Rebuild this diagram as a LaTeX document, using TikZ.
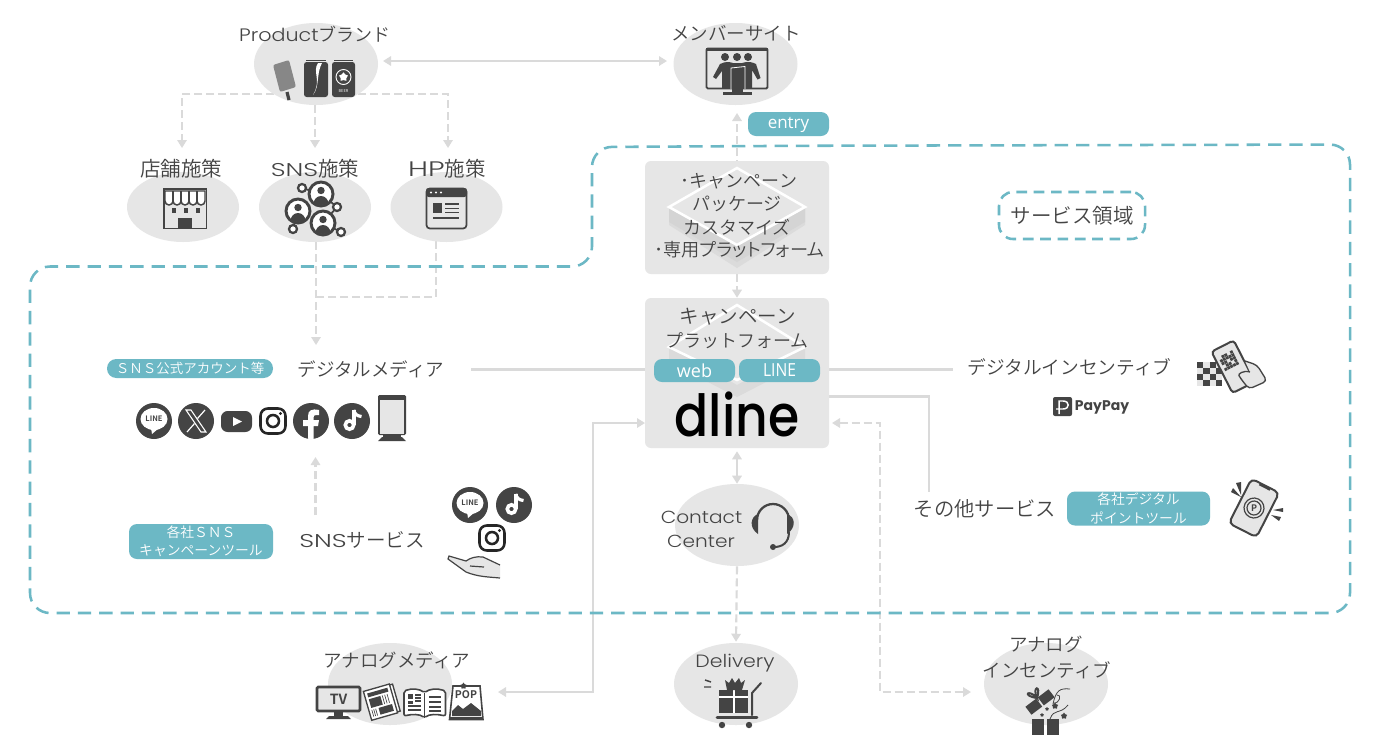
\documentclass[tikz,border=0pt]{standalone}
\usepackage{fontspec}
\setmainfont{Noto Sans CJK JP}[UprightFont={* DemiLight}]
\newfontfamily\jpp{Noto Sans CJK JP}[UprightFont={* DemiLight},RawFeature={+palt}]
\newfontfamily\lat{Poppins}[UprightFont={* Light},FakeStretch=1.15]
\newfontfamily\latw{Poppins}[UprightFont={* Light},FakeStretch=1.4]
\newfontfamily\blat{Poppins}[UprightFont={* Medium}]
\newfontfamily\pill{Open Sans}
\newfontfamily\pilln{Open Sans}[FakeStretch=0.87]
\usetikzlibrary{arrows.meta,shapes.geometric,calc}
\pgfdeclarelayer{conn}
\pgfsetlayers{conn,main}
\newcommand{\px}[1]{\fontsize{\dimexpr#1pt*3/4\relax}{\dimexpr#1pt\relax}\selectfont}
\definecolor{dk}{HTML}{444444}
\definecolor{tl}{HTML}{6CB8C5}
\definecolor{gr}{HTML}{E6E6E6}
\definecolor{ln}{HTML}{DADADA}
\tikzset{
 x=0.75pt,y=-0.75pt,
 oval/.style={ellipse,fill=gr,inner sep=0pt,minimum width=#1},
 ovalA/.style={oval=93pt,minimum height=61.5pt},
 ovalB/.style={oval=84pt,minimum height=52.5pt},
 panel/.style={rectangle,fill=gr,rounded corners=4.5pt,inner sep=0pt},
 tag/.style={rectangle,fill=tl,text=white,rounded corners=6pt,inner sep=0pt,align=center},
 lab/.style={text=dk,inner sep=0pt,align=center,font=\px{18.5}},
 sol/.style={draw=ln,line width=1.6pt},
 das/.style={sol,dash pattern=on 6pt off 3pt},
 tip/.style={-{Triangle[width=7pt,length=6pt]}},
 tipp/.style={{Triangle[width=7pt,length=6pt]}-{Triangle[width=7pt,length=6pt]}},
 zone/.style={draw=tl,line width=1.9pt,dash pattern=on 10pt off 6pt},
}
\newcommand{\lineicon}[2]{\begin{scope}[shift={(#1,#2)}]
 \fill[dk] (0,0) circle[radius=18];
 \fill[white] (0,-2) ellipse[x radius=13.5,y radius=11];
 \fill[white] (-3,7) -- (-2,13) -- (5,7) -- cycle;
 \node[text=dk,inner sep=0pt,font=\px{7.5}\bfseries] at (0,-2) {LINE};
\end{scope}}
\newcommand{\tiktokicon}[2]{\begin{scope}[shift={(#1,#2)}]
 \fill[dk] (0,0) circle[radius=18];
 \draw[white,line width=2.7pt] (-2.5,4) circle[radius=4.2];
 \draw[white,line width=2.7pt] (1.7,4) -- (1.7,-11);
 \draw[white,line width=2.4pt] (1.7,-11) .. controls (2.5,-7) and (5,-5) .. (9.5,-4.5);
\end{scope}}
\newcommand{\instaicon}[2]{\begin{scope}[shift={(#1,#2)}]
 \draw[black!85,line width=1.9pt,rounded corners=5.5pt] (-12.5,-12.5) rectangle (12.5,12.5);
 \draw[black!85,line width=1.9pt] (0,0) circle[radius=6];
 \fill[black!85] (7.5,-7.5) circle[radius=1.7];
\end{scope}}
\begin{document}
\begin{tikzpicture}
\useasboundingbox (0,0) rectangle (1380,747);
\begin{pgfonlayer}{conn}
\fill[white] (0,0) rectangle (1380,747);
\end{pgfonlayer}

% ---------- panels and ovals
\node[ovalA] (prod) at (316,64) {};
\node[ovalA] (memb) at (735.5,64) {};
\node[ovalB] (shop) at (183,207) {};
\node[ovalB] (snsp) at (315,207) {};
\node[ovalB] (hpp) at (446.5,207) {};
\node[ovalA] (cont) at (737,525) {};
\node[ovalA] (anam) at (390,684) {};
\node[ovalA] (deli) at (736,684) {};
\node[ovalA] (anai) at (1046,684) {};
\node[panel,minimum width=138pt,minimum height=84.75pt] (pk) at (737,217.5) {};
\node[panel,minimum width=138pt,minimum height=112.5pt] (pf) at (737,373) {};

% diamonds
\fill[black!5!gr] (669,207) -- (737,245) -- (805,207) -- (805,225) -- (737,268) -- (669,225) -- cycle;
\fill[black!8!gr] (669,207) -- (737,245) -- (805,207) -- (805,222) -- (737,262) -- (669,222) -- cycle;
\draw[white,line width=1.9pt,line join=miter] (737,168) -- (805,207) -- (737,245) -- (669,207) -- cycle;
\fill[black!5!gr] (669,347) -- (737,385) -- (805,347) -- (805,362) -- (737,397) -- (669,362) -- cycle;
\draw[white,line width=1.9pt] (737,305) -- (805,347) -- (737,380) -- (669,347) -- cycle;

% ---------- text labels
\node[lab,font=\px{18}] (tprod) at (315,34) {{\lat\px{18}Product}ブランド};
\node[lab] (tmemb) at (736,33.5) {メンバーサイト};
\node[lab,font=\px{20.5}] (tshop) at (181,168.5) {店舗施策};
\node[lab,font=\px{20.5}] (tsns) at (315,168.5) {{\latw\px{18.5}SNS}施策};
\node[lab,font=\px{20.5}] (thp) at (447,168.5) {{\latw\px{21}HP}施策};
\node[lab,font=\px{18}] (tpk1) at (739,181) {･キャンペーン};
\node[lab,font=\px{18}] (tpk2) at (737,203.5) {パッケージ};
\node[lab,font=\px{18}] (tpk3) at (737,227) {カスタマイズ};
\node[lab,font=\px{18.2}\jpp] (tpk4) at (739.5,250) {･専用プラットフォーム};
\node[lab,font=\px{19.5}] (tpf1) at (738,317) {キャンペーン};
\node[lab,font=\px{18}] (tpf2) at (737,341) {プラットフォーム};
\node[tag,minimum width=60.75pt,minimum height=18pt] (ent) at (788.5,124) {\raisebox{-3.3pt}[0pt][0pt]{\pill\px{17}entry}};
\node[tag,minimum width=60.75pt,minimum height=17.25pt] (web) at (694.5,370.5) {\pill\px{18}web};
\node[tag,minimum width=60.75pt,minimum height=17.25pt] (lin) at (779.5,370.5) {\pilln\px{18}LINE};
\node[inner sep=0pt,text=black] (dl) at (737,414) {\scalebox{.87}[1]{\blat\px{58}dline}};
\node[lab] (tdig) at (371,369) {デジタルメディア};
\node[tag,rounded corners=7pt,minimum width=124.5pt,minimum height=14.25pt,font=\px{13.5}] (t1) at (190,368.5) {ＳＮＳ公式アカウント等};
\node[tag,minimum width=108pt,minimum height=26.25pt,font=\px{13.8},align=center] (t2) at (201,541.5) {\baselineskip=17pt 各社ＳＮＳ\\キャンペーンツール};
\node[lab,font=\px{19.5}] (tsv) at (362,540) {{\latw\px{18.5}SNS}サービス};
\node[lab,font=\px{17.5}] (tc1) at (701.5,517) {\lat Contact};
\node[lab,font=\px{17.5}] (tc2) at (701,541) {\lat Center};
\node[lab,font=\px{18.7}] (tdi) at (1069.5,367) {デジタルインセンティブ};
\node[lab,font=\px{14.5}\bfseries] (tpp) at (1102,407) {\fontspec{Poppins}\px{14}PayPay};
\node[lab,font=\px{20.3}] (tot) at (985,509) {その他サービス};
\node[tag,minimum width=107.25pt,minimum height=25.5pt,font=\px{13.8},align=center] (t3) at (1138.5,508.5) {\baselineskip=16pt 各社デジタル\\ポイントツール};
\node[lab] (tam) at (397,660) {アナログメディア};
\node[lab,font=\px{17.8}] (tde) at (735,663) {\lat Delivery};
\node[lab] (ta1) at (1046,644.5) {アナログ};
\node[lab] (ta2) at (1047,670) {インセンティブ};
\node[draw=tl,line width=1.9pt,dash pattern=on 8pt off 5pt,rounded corners=10.5pt,minimum width=109.5pt,minimum height=35.25pt,inner sep=0pt,text=dk,font=\px{20.5}] (zl) at (1072,215.5) {サービス領域};

% ---------- connector anchors
\coordinate (pa) at (383,61); \coordinate (ma) at (667,61);
\coordinate (pl) at (274,94); \coordinate (pr) at (358,94);
\coordinate (sa) at (182,148); \coordinate (sb) at (315,148); \coordinate (sc) at (448,148);
\coordinate (pd) at (315,105);
\coordinate (sn) at (316,242); \coordinate (hn) at (436,241);
\coordinate (jn) at (316,297); \coordinate (dm) at (316,345);
\coordinate (et) at (737,113); \coordinate (pk1) at (737,168);
\coordinate (ld) at (471,369.5); \coordinate (pfl) at (645,369.5);
\coordinate (pfr) at (829,369.5); \coordinate (di) at (953,369.5);
\coordinate (pfr2) at (829,396.5); \coordinate (ot) at (929,492);
\coordinate (pfd) at (832,423); \coordinate (an) at (971,692); \coordinate (cnr) at (880,692);
\coordinate (pfe) at (645,423); \coordinate (am) at (498,692);
\coordinate (sv) at (315.5,515); \coordinate (smt) at (315.5,457);
\coordinate (amc) at (593,692);

\begin{pgfonlayer}{conn}
 \draw[sol,tipp] (pa) -- (ma);
 \draw[das,tip] (pl) -| (sa);
 \draw[das,tip] (pr) -| (sc);
 \draw[das,tip] (pd) -- (sb);
 \draw[das,tip] (sn) -- (dm);
 \draw[das] (hn) |- (jn);
 \draw[das,tip] (pk1) -- (et);
 \draw[das,tip] (pk.south) -- (pf.north);
 \draw[sol,tipp] ($(pf.south)+(0,3)$) -- (cont.north);
 \draw[das,tip] (cont.south) -- ($(deli.north)+(0,-1)$);
 \draw[sol] (ld) -- (pfl);
 \draw[sol] (pfr) -- (di);
 \draw[sol] (pfr2) -| (ot);
 \draw[das,tipp] (pfd) -| (cnr) -- (an);
 \draw[sol,tipp] (pfe) -| (amc) -- (am);
 \draw[das,tip] (sv) -- (smt);
\end{pgfonlayer}

% ---------- service zone
\draw[zone,rounded corners=15pt] (800,145.8) -- (1350,144.5) -- (1350,613) -- (30,613) -- (30,266.5) -- (592,266.5) -- (592,147) -- cycle;

% ---------- icons: product
\fill[black!47] [rounded corners=1.5pt] (273,65) -- (289,60) -- (296,87) -- (280,92) -- cycle;
\draw[dk,line width=2.4pt] (287,92) -- (289,100);
\fill[dk,rounded corners=2pt] (304,62) rectangle (328,97);
\draw[dk,line width=1pt] (306,60.5) -- (326,60.5);
\fill[white] (318,63) .. controls (312,72) and (322,80) .. (313,95) .. controls (320,86) and (316,74) .. (322,63) -- cycle;
\fill[dk,rounded corners=2pt] (332,62) rectangle (355,97);
\draw[dk,line width=1pt] (334,60.5) -- (353,60.5);
\draw[white,line width=.7pt] (343.5,77) circle[radius=7.5];
\node[star,star points=5,fill=white,inner sep=0pt,minimum size=7pt] (st1) at (343.5,77) {};
\node[text=white,inner sep=0pt,font=\px{4}] (beer) at (343.5,91) {BEER};

% shop
\draw[dk,line width=1.4pt] (164,189) rectangle (206.5,228.5);
\fill[white,draw=dk,line width=1.1pt] (165,191) -- (205,191) -- (205,201) arc[start angle=0,end angle=180,radius=4] arc[start angle=0,end angle=180,radius=4] arc[start angle=0,end angle=180,radius=4] arc[start angle=0,end angle=180,radius=4] arc[start angle=0,end angle=180,radius=4] -- cycle;
\foreach \q in {173,181,189,197}{\draw[dk,line width=1.1pt] (\q,191) -- (\q,201);}
\foreach \q in {172,184,196}{\fill[dk] (\q,208) rectangle ++(4,5);}
\fill[dk] (178,218) rectangle (192,229);

% SNS cluster
\draw[dk,line width=1.3pt] (302,188) -- (321,194) -- (337,207) -- (323,223) -- (341,232);
\draw[dk,line width=1.3pt] (298,211) -- (293,229);
\foreach \cx/\cy in {302/188,337/207,293/229,341/232}{\fill[white,draw=dk,line width=1.7pt] (\cx,\cy) circle[radius=4];}
\foreach \cx/\cy in {298/211,321/194,323/223}{
 \fill[white] (\cx,\cy) circle[radius=11];
 \begin{scope}
 \clip (\cx,\cy) circle[radius=11];
 \fill[dk] (\cx,\cy) ++(0,10) ellipse[x radius=7.5,y radius=8];
 \end{scope}
 \fill[dk] (\cx,\cy) ++(0,-3.5) circle[radius=3.7];
 \draw[dk,line width=2.2pt] (\cx,\cy) circle[radius=12];
}

% browser
\draw[dk,line width=1.3pt,rounded corners=2.5pt] (426.5,188.5) rectangle (466.5,228.5);
\fill[dk,rounded corners=2pt] (426,188) rectangle (467,197);
\foreach \q in {431,436,441}{\fill[white] (\q,192.5) circle[radius=1.2];}
\fill[dk] (433,203) rectangle (442,213);
\foreach \q in {204.5,209,213}{\fill[dk] (445,\q) rectangle ++(14,-1.5);}
\fill[dk] (433,217) rectangle (459,219);

% member monitor
\fill[gr,draw=dk,line width=1.4pt,rounded corners=1pt] (706.5,48.5) rectangle (767.5,88.5);
\fill[dk] (706,48) rectangle (768,51);
\fill[dk] (732,89) rectangle (743,92);
\fill[dk] (723,92) rectangle (752,95);
\foreach \q in {725,737,748}{\fill[dk] (\q,57) circle[radius=4];}
\fill[dk] (713,77) -- (720,64) .. controls (726,61) and (730,62) .. (733,63) -- (742,63) .. controls (748,61) and (752,62) .. (756,64) -- (760.5,78) -- (757.5,79.5) -- (752,70) -- (752,88) -- (722,88) -- (722,71) -- (716,79) -- cycle;
\draw[white,line width=.6pt] (731,89) -- (731,68) -- (745,66.5) -- (745,89);

% social icons
\lineicon{154}{421}
\begin{scope}[shift={(196,421)}]
 \fill[dk] (0,0) circle[radius=18];
 \draw[white,line width=.8pt] (-10,-11) -- (-5,-11) -- (10,11) -- (5,11) -- cycle;
 \draw[white,line width=.9pt] (9,-11) -- (1.5,-2.5) (-1.5,2.5) -- (-9,11);
\end{scope}
\fill[dk,rounded corners=5pt] (221,411) rectangle (252,432);
\fill[white] (233,417) -- (242,421.5) -- (233,426) -- cycle;
\instaicon{273}{421}
\begin{scope}[shift={(311,421)}]
 \fill[dk] (0,0) circle[radius=18];
 \begin{scope}
 \clip (0,0) circle[radius=18];
 \fill[white] (-3,19) -- (-3,5) -- (-8,5) -- (-8,-1) -- (-3,-1) -- (-3,-5) .. controls (-3,-11) and (1,-12.5) .. (8,-11) -- (8,-6) -- (5,-6) .. controls (3,-6) and (2.5,-5) .. (2.5,-3) -- (2.5,-1) -- (8,-1) -- (7,5) -- (2.5,5) -- (2.5,19) -- cycle;
 \end{scope}
\end{scope}
\tiktokicon{352}{421}
\fill[dk,rounded corners=1pt] (378,395) rectangle (406,435);
\fill[gr] (380,400) rectangle (404,434);
\fill[dk] (383,435) rectangle (401,437);
\fill[dk] (382,437) -- (402,437) -- (406,441) -- (378,441) -- cycle;

% SNS services icons
\lineicon{470}{505}
\tiktokicon{514}{505}
\instaicon{492}{538}
\fill[gr,draw=dk,line width=.9pt] (500,565) -- (483,557) .. controls (476,556) and (470,558) .. (466,561) -- (449,556) -- (448,559) -- (466,572) .. controls (478,577) and (490,577) .. (500,578);
\draw[dk,line width=.9pt] (470,566) -- (484,567);

% headset
\draw[dk,line width=1.7pt] (757,520) arc[start angle=180,end angle=360,radius=16];
\fill[dk] (758,514) .. controls (750,517) and (749,528) .. (758,534) -- cycle;
\fill[dk] (787,514) .. controls (796,517) and (796,528) .. (787,534) -- cycle;
\draw[dk,line width=1.5pt] (789,532) .. controls (789,543) and (782,547) .. (774,547);
\fill[dk] (773,547) circle[radius=3];

% QR hand
\foreach \i/\j in {0/0,2/0,1/1,3/1,0/2,2/2,1/3,3/3}{\fill[dk] (1197+6.3*\i,361.5+6.2*\j) rectangle ++(6.3,6.2);}
\foreach \i/\j in {1/0,3/0,0/1,2/1,1/2,3/2,0/3,2/3}{\fill[gr] (1197+6.3*\i,361.5+6.2*\j) rectangle ++(6.3,6.2);}
\begin{scope}[shift={(1233,366.5)},rotate=27]
 \fill[gr,draw=dk,line width=1.5pt,rounded corners=2.5pt] (-12.5,-23) rectangle (12.5,23.5);
 \foreach \i in {0,...,4}{\foreach \j in {0,...,4}{\pgfmathparse{int(mod(\i*\i+2*\j+\i*\j,3))}\ifnum\pgfmathresult>0 \fill[dk] (-9+3.2*\i,-15+3.2*\j) rectangle ++(2.8,2.8);\fi}}
\end{scope}
\fill[gr,draw=dk,line width=1pt,rounded corners=3pt] (1245,361) -- (1257,365) -- (1267,381) -- (1249,389) -- (1241,379) .. controls (1238,374) and (1243,370) .. (1250,372);

% PayPay logo
\fill[dk,rounded corners=1.5pt] (1053,397) rectangle (1072,416);
\draw[white,line width=1.1pt] (1059,414) -- (1059,401) -- (1063,401) .. controls (1070,401) and (1070,409) .. (1063,409) -- (1056,409);

% P phone
\begin{scope}[shift={(1254,508)},rotate=-27]
 \fill[gr,draw=dk,line width=1.5pt,rounded corners=3.5pt] (-15.5,-25) rectangle (15.5,25);
 \fill[dk] (-6,-25) rectangle (6,-22.5);
 \draw[dk,line width=.9pt] (0,0) circle[radius=10];
 \draw[dk,line width=.9pt] (0,0) circle[radius=7];
\end{scope}
\node[text=dk,inner sep=0pt,font=\px{9}\bfseries] (pmark) at (1254,508) {P};
\fill[dk] (1236,483) -- (1241,482) -- (1241,495) -- cycle;
\fill[dk] (1231,492) -- (1233,488) -- (1241,497) -- cycle;
\fill[dk] (1273,510) -- (1283,508) -- (1283,512) -- cycle;
\fill[dk] (1271,515) -- (1281,517) -- (1279,521) -- cycle;

% TV
\fill[gr,draw=dk,line width=2pt,rounded corners=1pt] (317,687) rectangle (360,711);
\node[text=dk,inner sep=0pt,font=\px{14}\bfseries] (tvt) at (338.5,699) {TV};
\fill[dk] (334,712) rectangle (343,716);
\fill[dk] (329,716) -- (348,716) -- (351,719) -- (326,719) -- cycle;
% newspaper
\begin{scope}[shift={(381,702)},rotate=16]
 \fill[white,draw=dk,line width=1pt] (-11,-14) rectangle (16,14);
 \fill[white,draw=dk,line width=1pt] (-14,-15) rectangle (13,15);
 \fill[dk] (-11,-12) rectangle (10,-8);
 \fill[dk] (-11,-6) rectangle (1,3);
 \fill[dk] (-4,5) rectangle (10,12);
 \foreach \q in {3,5.5,8}{\draw[dk,line width=.5pt] (\q,-6) -- (\q,3);}
 \foreach \q in {-11,-9,-7}{\draw[dk,line width=.5pt] (\q,5) -- (\q,12);}
\end{scope}
% book
\draw[dk,line width=1.2pt,fill=white,rounded corners=1.5pt] (404,691) .. controls (412,688) and (420,689) .. (424.5,693) .. controls (429,689) and (437,688) .. (445.5,691) -- (445.5,716) .. controls (437,714) and (429,714) .. (424.5,718) .. controls (420,714) and (412,714) .. (404,716) -- cycle;
\draw[dk,line width=1.2pt] (424.5,693) -- (424.5,718);
\fill[dk] (408,694) rectangle (413,699);
\fill[dk] (408,701) rectangle (413,704);
\foreach \q in {695,698,701}{\draw[dk,line width=.8pt] (415,\q) -- (421,\q);}
\foreach \q in {706,710}{\draw[dk,line width=.8pt] (408,\q) -- (421,\q);}
\foreach \q in {697,702,707,711}{\draw[dk,line width=.8pt] (429,\q) -- (441,\q);}
% POP
\draw[dk,line width=1.2pt,fill=white] (453,686) -- (480,686) -- (483,719.5) -- (449.5,719.5) -- cycle;
\fill[dk] (449.5,717) rectangle (483,720);
\node[text=dk,inner sep=0pt,font=\px{10.5}\bfseries] (popt) at (466,695) {POP};
\fill[dk] (452,711) -- (458,705) -- (463,709) -- (471,703) -- (481,711) -- (481,716) -- (452,716) -- cycle;
\node[star,star points=5,fill=dk,inner sep=0pt,minimum size=5pt] (st2) at (463.5,686) {};
% Delivery
\fill[dk] (719,690) rectangle (748,713);
\fill[white] (732.5,690) rectangle (735,713);
\fill[white] (719,696) rectangle (748,697.5);
\fill[dk] (725,680) -- (729,683) -- (732,678) -- (735,683) -- (739,678) -- (741,683) -- (745,680) -- (742,690) -- (727,690) -- cycle;
\draw[dk,line width=1.1pt] (705,680) -- (711,682) (704,687) -- (711,687) ;
\draw[dk,line width=1.5pt,line cap=round] (761,683) -- (752,693) -- (752,715);
\draw[dk,line width=2.2pt,line cap=round] (717,717.5) -- (757,717.5);
\fill[dk] (722,725) circle[radius=3.2];
\fill[dk] (749,725) circle[radius=3.2];
% Gift
\fill[dk] (1032,719) rectangle (1044,735);
\fill[dk] (1047,719) rectangle (1059,735);
\begin{scope}[shift={(1040,702)},rotate=37]
 \fill[dk] (-14.5,-5) rectangle (-1,5);
 \fill[dk] (1,-5) rectangle (14.5,5);
 \draw[dk,line width=1.5pt] (0,-5) .. controls (-11,-16) and (-1,-18) .. (0,-5) .. controls (3,-18) and (12,-13) .. (0,-5);
\end{scope}
\draw[dk,line width=.6pt] (1053,704) .. controls (1056,690) and (1060,688) .. (1070,689);
\draw[dk,line width=.6pt] (1053,703) .. controls (1060,704) and (1062,694) .. (1057,695);
\draw[dk,line width=.6pt] (1050,719) .. controls (1054,708) and (1060,715) .. (1068,705);
\node[star,star points=5,fill=dk,inner sep=0pt,minimum size=5pt] (st3) at (1055,706) {};
\node[star,star points=5,fill=dk,inner sep=0pt,minimum size=3pt] (st4) at (1047,709) {};
\node[star,star points=5,fill=dk,inner sep=0pt,minimum size=5pt] (st5) at (1064,716) {};
\node[star,star points=5,fill=dk,inner sep=0pt,minimum size=3pt] (st6) at (1042,715) {};
\end{tikzpicture}
\end{document}
